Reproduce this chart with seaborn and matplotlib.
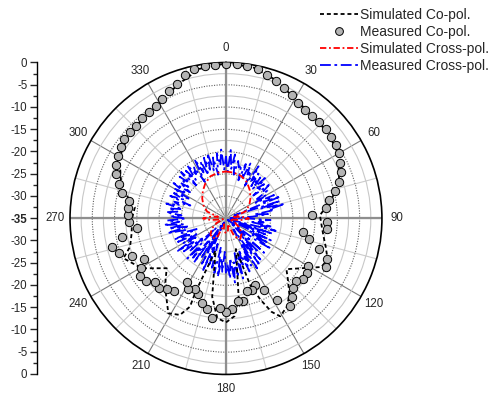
import numpy as np
import matplotlib
matplotlib.use("Agg")
import matplotlib.pyplot as plt
import seaborn as sns
from matplotlib.lines import Line2D

sns.set_style("white")
plt.rcParams["font.family"] = ["Liberation Sans", "DejaVu Sans"]

# ---- radiation pattern data (angle in degrees, level in dB) ----
meas_co_deg = list(range(0, 360, 4))
meas_co_db = [
    -0.34, -0.31, -0.45, -0.79, -1.53, -2.18, -2.96, -3.61, -4.40, -4.80,
    -5.00, -4.89, -4.94, -5.14, -5.32, -5.81, -6.57, -7.07, -8.26, -9.85,
    -11.51, -12.54, -15.64, -12.38, -12.27, -17.50, -15.71, -13.08, -10.57, -10.01,
    -13.73, -13.12, -13.04, -14.00, -13.39, -12.07, -10.63, -13.33, -16.92, -18.73,
    -17.95, -18.17, -16.18, -16.38, -14.58, -13.95, -14.81, -12.41, -14.18, -15.37,
    -16.85, -17.66, -17.07, -18.31, -14.99, -14.36, -13.44, -13.53, -12.23, -11.82,
    -12.90, -14.45, -12.34, -9.78, -8.75, -11.22, -14.99, -13.21, -13.08, -13.00,
    -12.79, -11.06, -9.78, -8.41, -7.49, -6.96, -6.51, -6.06, -6.10, -6.06,
    -5.61, -5.54, -5.23, -4.62, -3.59, -2.92, -1.53, -0.79, -0.56, -0.45,
]

sim_co_deg = [0, 10, 20, 30, 40, 50, 60, 72, 80, 88, 95, 100, 106, 112, 117,
              130, 135, 140, 145, 151, 154, 157, 160, 162, 171, 175, 180,
              185, 190, 198, 202, 202.5, 202.2, 205.5, 211.3, 221.8, 230,
              239.4, 248.8, 253.6, 261.1, 270, 277, 284, 290, 300, 310, 320,
              330, 340, 350, 360]
sim_co_db = [-0.2, -0.5, -2.0, -4.0, -4.9, -5.1, -5.9, -8.3, -11.0, -13.9, -13.4,
             -12.8, -11.7, -10.4, -11.0,
             -17.3, -15.3, -12.9, -11.0, -9.9, -11.7, -15.2, -19.1, -27.8, -16.6,
             -13.0, -11.67,
             -12.56, -17.16, -27.4, -19.7, -17.05, -13.62, -11.02, -10.10, -14.47,
             -17.63, -13.04, -10.32, -12.56, -13.57, -13.91, -14.4, -11.7, -9.9,
             -7.4, -6.3, -5.8, -5.2, -3.1, -0.9, -0.2]

sim_x_deg = [0, 10, 20, 30, 40, 50, 60, 70, 78, 84, 90, 96, 104, 115, 125, 135,
             145, 155, 162, 170, 180, 190, 198, 205, 215, 225, 235, 245, 256,
             264, 270, 276, 282, 290, 300, 310, 320, 330, 340, 350, 360]
sim_x_db = [-24.45, -24.57, -24.90, -25.58, -26.70, -27.82, -28.94, -30.29,
            -33.20, -31.41, -29.84, -31.63, -34.10, -32.76, -31.19, -30.06,
            -29.39, -30.51, -33.65, -32.31, -31.63, -32.31, -33.65, -30.29,
            -29.62, -30.06, -31.19, -32.76, -34.33, -31.63, -29.84, -31.41,
            -33.20, -30.51, -29.17, -28.04, -26.92, -25.80, -24.90, -24.57,
            -24.45]

meas_x_deg = list(range(0, 360, 2))
meas_x_db = [
    -21.0, -24.5, -19.6, -23.8, -20.5, -25.0, -21.8, -23.2, -22.5, -26.0,
    -22.0, -25.5, -21.5, -24.0, -23.0, -26.5, -21.2, -24.8, -22.6, -25.8,
    -23.0, -26.0, -22.4, -25.2, -23.5, -27.0, -22.8, -24.6, -23.8, -26.8,
    -24.5, -27.5, -23.0, -25.8, -21.8, -33.0, -22.2, -27.0, -21.4, -25.0,
    -24.0, -28.5, -25.5, -29.0, -34.0, -30.0, -25.0, -28.0, -26.5, -29.5,
    -24.5, -27.0, -23.5, -34.0, -24.0, -30.5, -25.5, -33.0, -23.8, -29.0,
    -24.0, -28.0, -22.8, -27.0, -34.5, -31.0, -23.5, -33.0, -24.5, -29.5,
    -23.0, -27.5, -22.5, -32.0, -21.8, -28.0, -23.0, -25.5, -22.0, -27.0,
    -23.5, -26.5, -21.0, -27.0, -22.0, -25.0, -20.5, -26.0, -21.5, -24.5,
    -22.5, -27.5, -23.0, -26.0, -21.8, -28.5, -22.5, -25.0, -23.5, -29.0,
    -24.0, -28.0, -22.0, -34.0, -23.5, -30.0, -24.5, -33.0, -22.8, -28.5,
    -23.5, -26.5, -22.5, -32.0, -24.0, -28.0, -23.0, -26.0, -22.0, -27.0,
    -24.0, -27.5, -23.0, -26.0, -22.5, -28.0, -24.5, -25.5, -21.5, -26.5,
    -22.0, -25.5, -21.0, -24.5, -21.8, -26.0, -22.5, -25.0, -21.5, -24.0,
    -22.0, -25.0, -21.2, -24.0, -22.8, -26.5, -21.5, -24.5, -22.0, -25.5,
    -21.5, -24.5, -20.8, -25.0, -22.0, -24.0, -21.0, -23.5, -20.5, -25.0,
    -21.0, -24.0, -20.2, -23.0, -21.5, -25.5, -20.0, -23.5, -21.0, -24.5,
    -20.5, -23.5, -19.8, -24.0, -21.0, -25.0, -20.2, -23.0, -19.5, -24.0,
]

angle_ticks = list(range(0, 360, 30))
angle_labels = [str(a) for a in angle_ticks]
radial_ticks = [0, -5, -10, -15, -20, -25, -30, -35]
legend_labels = ["Simulated Co-pol.", "Measured Co-pol.",
                 "Simulated Cross-pol.", "Measured Cross-pol."]

R_MIN, R_MAX = -35, 0
FS = 8.3
LEG_FS = 10

fig = plt.figure(figsize=(4.92, 3.94), dpi=100)
ax = fig.add_axes([0.1423, 0.0495, 0.634, 0.792], projection="polar")
ax.set_theta_zero_location("N")
ax.set_theta_direction(-1)

# measured cross-pol (closed curve)
mx_t = np.deg2rad(meas_x_deg + [meas_x_deg[0] + 360])
mx_r = meas_x_db + [meas_x_db[0]]
sns.lineplot(x=mx_t, y=mx_r, ax=ax, sort=False, estimator=None,
             color="#0000ff", linewidth=1.3, zorder=3)
ax.lines[-1].set_linestyle((0, (6, 2, 1.5, 2)))

# simulated cross-pol
sns.lineplot(x=np.deg2rad(sim_x_deg), y=sim_x_db, ax=ax, sort=False,
             estimator=None, color="#ff0000", linewidth=1.3, zorder=4)
ax.lines[-1].set_linestyle((0, (3.5, 1.5, 1, 1.5)))

# simulated co-pol
sns.lineplot(x=np.deg2rad(sim_co_deg), y=sim_co_db, ax=ax, sort=False,
             estimator=None, color="black", linewidth=1.3, zorder=5)
ax.lines[-1].set_linestyle((0, (2.2, 1.6)))

# measured co-pol markers
sns.scatterplot(x=np.deg2rad(meas_co_deg), y=meas_co_db, ax=ax, s=36,
                color="#b4b4b4", edgecolor="black", linewidth=0.7, zorder=6)

ax.set_rlim(R_MIN, R_MAX)
ax.set_xlabel("")
ax.set_ylabel("")

# radial grid: dotted every 5 dB, light solid in between
ax.set_yticks([-30, -25, -20, -15, -10, -5])
ax.set_yticks([-32.5, -27.5, -22.5, -17.5, -12.5, -7.5, -2.5], minor=True)
ax.set_yticklabels([])
ax.yaxis.grid(True, which="major", color="#606060", linestyle=(0, (1, 1.3)),
              linewidth=0.8)
ax.yaxis.grid(True, which="minor", color="#c8c8c8", linestyle="-",
              linewidth=0.8)
ax.tick_params(axis="y", which="both", length=0)

# angular grid
ax.set_xticks(np.deg2rad(angle_ticks))
ax.set_xticks(np.deg2rad(list(range(15, 360, 30))), minor=True)
ax.set_xticklabels([])
ax.xaxis.grid(True, which="major", color="#7a7a7a", linewidth=0.8)
ax.xaxis.grid(True, which="minor", color="#cccccc", linewidth=0.8)
ax.tick_params(axis="x", which="both", direction="in", length=5, width=0.9,
               color="black")
for a in (0, 90, 180, 270):
    ax.axvline(np.deg2rad(a), color="#8e8e8e", linewidth=1.6, zorder=1)
ax.set_axisbelow(True)
ax.spines["polar"].set_color("black")
ax.spines["polar"].set_linewidth(1.2)

for a, lab in zip(angle_ticks, angle_labels):
    ax.text(np.deg2rad(a), R_MAX + 3.3, lab, ha="center", va="center",
            fontsize=FS, clip_on=False)

# stand-alone radial scale on the left (outer edge -> centre -> outer edge)
lax = fig.add_axes([37 / 492, 0.0508, 0.0005, 0.7906])
lax.set_ylim(0, 70)
pos = [70 + v for v in radial_ticks] + [-v for v in radial_ticks[:-1]]
labs = [str(v) for v in radial_ticks] + [str(v) for v in radial_ticks[:-1]]
lax.set_yticks(pos)
lax.set_yticklabels(labs, fontsize=FS)
lax.set_yticks([p + 2.5 for p in range(0, 70, 5)], minor=True)
lax.set_xticks([])
for s in ("top", "right", "bottom"):
    lax.spines[s].set_visible(False)
lax.spines["left"].set_color("black")
lax.spines["left"].set_linewidth(1.0)
lax.tick_params(axis="y", which="major", direction="out", length=5, width=1,
                pad=2, left=True)
lax.tick_params(axis="y", which="minor", direction="out", length=3, width=1,
                left=True)
lax.patch.set_visible(False)
for t in lax.get_yticklabels():
    if t.get_text() == "-35":
        t.set_fontweight("bold")

handles = [
    Line2D([], [], color="black", lw=1.3, ls=(0, (2.2, 1.6))),
    Line2D([], [], ls="none", marker="o", markersize=5.6,
           markerfacecolor="#b4b4b4", markeredgecolor="black",
           markeredgewidth=0.7),
    Line2D([], [], color="#ff0000", lw=1.3, ls=(0, (3.5, 1.5, 1, 1.5))),
    Line2D([], [], color="#0000ff", lw=1.3, ls=(0, (6, 2, 1.5, 2))),
]
fig.legend(handles, legend_labels, loc="upper left",
           bbox_to_anchor=(320 / 492, 1 - 8 / 394), frameon=False,
           fontsize=LEG_FS, handlelength=2.7, handletextpad=0.2,
           labelspacing=0.22, borderpad=0, borderaxespad=0)

fig.savefig("out.png", dpi=100)
